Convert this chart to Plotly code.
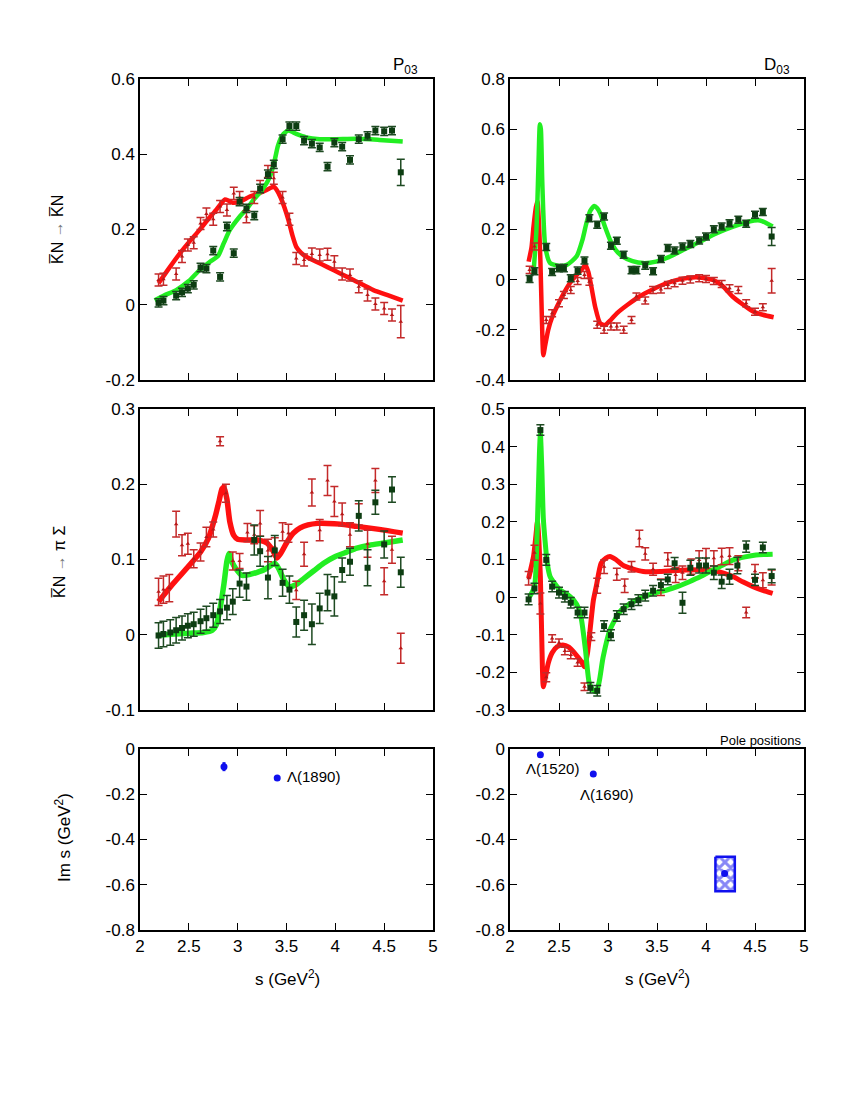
import plotly.graph_objects as go

# ---------------- data ----------------
# Top-left: P03, KbarN -> KbarN
tl_x = [2.19, 2.24, 2.37, 2.43, 2.49, 2.55, 2.62, 2.68, 2.75, 2.82, 2.89, 2.96, 3.02, 3.09, 3.17, 3.23, 3.31,
        3.37, 3.46, 3.53, 3.60, 3.68, 3.76, 3.84, 3.92, 3.99, 4.07, 4.15, 4.24, 4.33, 4.41, 4.50, 4.58, 4.67]
tl_im = [0.005, 0.011, 0.024, 0.033, 0.043, 0.053, 0.099, 0.096, 0.144, 0.074, 0.208, 0.137, 0.274, 0.256, 0.237,
         0.309, 0.347, 0.373, 0.440, 0.475, 0.475, 0.436, 0.428, 0.418, 0.367, 0.431, 0.420, 0.385, 0.440, 0.449,
         0.463, 0.461, 0.463, 0.352]
tl_im_err = [0.011] * 33 + [0.035]
tl_re = [0.066, 0.068, 0.082, 0.128, 0.159, 0.165, 0.216, 0.241, 0.227, 0.261, 0.252, 0.296, 0.285, 0.234, 0.285,
         0.314, 0.354, 0.336, 0.285, 0.227, 0.123, 0.119, 0.135, 0.132, 0.134, 0.114, 0.082, 0.079, 0.048, 0.026,
         0.002, -0.010, -0.027, -0.045]
tl_re_err = [0.016] * 33 + [0.043]
tl_re_fit_x = [2.19, 2.30, 2.41, 2.51, 2.61, 2.70, 2.78, 2.84, 2.87, 2.91, 2.95, 3.03, 3.12, 3.20, 3.28, 3.34, 3.37,
               3.40, 3.44, 3.48, 3.52, 3.56, 3.60, 3.65, 3.70, 3.80, 3.92, 4.05, 4.20, 4.39, 4.55, 4.69]
tl_re_fit = [0.057, 0.098, 0.137, 0.169, 0.199, 0.228, 0.252, 0.272, 0.280, 0.276, 0.271, 0.275, 0.287, 0.294,
             0.303, 0.311, 0.314, 0.305, 0.285, 0.258, 0.225, 0.185, 0.154, 0.138, 0.128, 0.115, 0.100, 0.083,
             0.064, 0.039, 0.024, 0.011]
tl_im_fit_x = [2.15, 2.25, 2.37, 2.50, 2.61, 2.72, 2.80, 2.86, 2.92, 3.02, 3.10, 3.16, 3.25, 3.33, 3.38, 3.41, 3.44,
               3.47, 3.52, 3.60, 3.70, 3.84, 4.00, 4.22, 4.45, 4.69]
tl_im_fit = [0.012, 0.025, 0.039, 0.063, 0.092, 0.115, 0.130, 0.165, 0.199, 0.234, 0.257, 0.278, 0.305, 0.340,
             0.385, 0.420, 0.442, 0.454, 0.463, 0.454, 0.445, 0.440, 0.440, 0.441, 0.438, 0.434]

# Top-right: D03, KbarN -> KbarN
tr_x = [2.20, 2.25, 2.37, 2.43, 2.50, 2.55, 2.62, 2.69, 2.76, 2.81, 2.89, 2.96, 3.03, 3.09, 3.16, 3.24, 3.29,
        3.38, 3.46, 3.54, 3.61, 3.68, 3.76, 3.84, 3.93, 4.00, 4.08, 4.16, 4.24, 4.33, 4.41, 4.50, 4.58, 4.67]
tr_im = [0.003, 0.034, 0.130, 0.031, 0.046, 0.046, 0.006, 0.036, 0.076, 0.245, 0.219, 0.252, 0.135, 0.155, 0.099,
         0.038, 0.038, 0.056, 0.034, 0.082, 0.126, 0.116, 0.132, 0.142, 0.156, 0.172, 0.201, 0.212, 0.225, 0.239,
         0.223, 0.259, 0.270, 0.172]
tr_im_err = [0.014] * 33 + [0.036]
tr_re = [0.039, 0.132, -0.161, -0.134, -0.094, -0.061, -0.041, -0.005, 0.019, -0.008, -0.180, -0.200, -0.187,
         -0.187, -0.200, -0.161, -0.067, -0.083, -0.041, -0.039, -0.021, -0.014, -0.004, 0.001, 0.006, 0.003,
         -0.005, -0.017, -0.034, -0.041, -0.094, -0.128, -0.110, -0.004]
tr_re_err = [0.014] * 33 + [0.049]
tr_re_fit_x = [2.19, 2.22, 2.24, 2.265, 2.28, 2.295, 2.31, 2.325, 2.34, 2.36, 2.39, 2.43, 2.48, 2.54, 2.61, 2.67,
               2.73, 2.77, 2.80, 2.83, 2.87, 2.92, 2.97, 3.03, 3.09, 3.20, 3.32, 3.45, 3.60, 3.75, 3.90, 4.07,
               4.17, 4.27, 4.38, 4.48, 4.58, 4.69]
tr_re_fit = [0.072, 0.130, 0.212, 0.290, 0.312, 0.230, 0.079, -0.150, -0.301, -0.260, -0.200, -0.150, -0.107,
             -0.060, -0.014, 0.015, 0.039, 0.059, 0.030, -0.028, -0.110, -0.174, -0.181, -0.160, -0.134, -0.100,
             -0.067, -0.040, -0.014, 0.003, 0.010, -0.001, -0.025, -0.067, -0.100, -0.127, -0.140, -0.150]
tr_im_fit_x = [2.24, 2.27, 2.29, 2.305, 2.315, 2.33, 2.36, 2.41, 2.50, 2.58, 2.68, 2.74, 2.78, 2.82, 2.86, 2.89,
               2.92, 2.97, 3.02, 3.08, 3.15, 3.25, 3.36, 3.49, 3.62, 3.77, 3.94, 4.11, 4.27, 4.44, 4.55, 4.68]
tr_im_fit = [0.026, 0.200, 0.450, 0.620, 0.600, 0.380, 0.132, 0.066, 0.055, 0.059, 0.093, 0.160, 0.226, 0.275,
             0.294, 0.285, 0.265, 0.210, 0.159, 0.118, 0.092, 0.074, 0.066, 0.072, 0.090, 0.119, 0.152, 0.185,
             0.210, 0.232, 0.236, 0.212]

# Middle-left: P03, KbarN -> pi Sigma
ml_im_x = [2.19, 2.24, 2.31, 2.37, 2.43, 2.49, 2.55, 2.62, 2.68, 2.75, 2.82, 2.89, 2.95, 3.02, 3.09, 3.17, 3.23,
           3.31, 3.38, 3.46, 3.53, 3.60, 3.68, 3.76, 3.84, 3.92, 3.99, 4.07, 4.15, 4.24, 4.33, 4.41, 4.50, 4.58, 4.67]
ml_im = [-0.001, 0.001, 0.003, 0.006, 0.009, 0.012, 0.014, 0.018, 0.022, 0.026, 0.031, 0.036, 0.044, 0.068, 0.064,
         0.126, 0.111, 0.076, 0.112, 0.069, 0.060, 0.017, 0.026, 0.014, 0.035, 0.056, 0.051, 0.086, 0.097, 0.158,
         0.089, 0.176, 0.120, 0.193, 0.083]
ml_im_err = [0.017, 0.017, 0.017, 0.017, 0.016, 0.016, 0.016, 0.016, 0.016, 0.016, 0.016, 0.016, 0.017, 0.018,
             0.018, 0.020, 0.020, 0.028, 0.020, 0.018, 0.018, 0.020, 0.020, 0.027, 0.020, 0.024, 0.026, 0.016,
             0.018, 0.020, 0.024, 0.016, 0.018, 0.017, 0.020]
ml_re_x = [2.19, 2.24, 2.30, 2.37, 2.43, 2.49, 2.55, 2.62, 2.68, 2.75, 2.82, 2.88, 2.95, 3.02, 3.10, 3.17, 3.23,
           3.31, 3.38, 3.46, 3.52, 3.60, 3.68, 3.76, 3.84, 3.92, 3.99, 4.07, 4.15, 4.24, 4.33, 4.41, 4.50, 4.58, 4.67]
ml_re = [0.057, 0.060, 0.062, 0.147, 0.119, 0.121, 0.101, 0.110, 0.130, 0.140, 0.257, 0.188, 0.098, 0.098, 0.136,
         0.133, 0.148, 0.112, 0.117, 0.137, 0.135, 0.059, 0.107, 0.189, 0.139, 0.205, 0.177, 0.160, 0.133, 0.160,
         0.121, 0.205, 0.071, 0.113, -0.018]
ml_re_err = [0.018, 0.018, 0.018, 0.017, 0.014, 0.014, 0.012, 0.012, 0.013, 0.010, 0.006, 0.012, 0.012, 0.010,
             0.012, 0.012, 0.017, 0.015, 0.012, 0.012, 0.012, 0.012, 0.016, 0.018, 0.014, 0.020, 0.020, 0.015,
             0.016, 0.014, 0.018, 0.016, 0.018, 0.018, 0.020]
ml_re_fit_x = [2.19, 2.34, 2.51, 2.62, 2.70, 2.77, 2.81, 2.84, 2.86, 2.89, 2.92, 2.96, 3.00, 3.09, 3.20, 3.30, 3.36,
               3.40, 3.44, 3.50, 3.57, 3.64, 3.72, 3.82, 3.92, 4.05, 4.22, 4.45, 4.69]
ml_re_fit = [0.044, 0.068, 0.093, 0.110, 0.128, 0.157, 0.178, 0.194, 0.196, 0.180, 0.150, 0.132, 0.127, 0.126,
             0.126, 0.122, 0.112, 0.102, 0.108, 0.122, 0.135, 0.142, 0.146, 0.148, 0.148, 0.147, 0.144, 0.140, 0.135]
ml_im_fit_x = [2.17, 2.35, 2.51, 2.65, 2.74, 2.78, 2.82, 2.86, 2.89, 2.91, 2.94, 2.98, 3.04, 3.12, 3.20, 3.28, 3.35,
               3.38, 3.42, 3.47, 3.53, 3.59, 3.68, 3.78, 3.88, 4.00, 4.12, 4.22, 4.35, 4.50, 4.69]
ml_im_fit = [-0.001, 0.001, 0.002, 0.003, 0.006, 0.013, 0.035, 0.068, 0.098, 0.108, 0.097, 0.088, 0.079, 0.080,
             0.083, 0.087, 0.093, 0.095, 0.088, 0.074, 0.064, 0.066, 0.075, 0.085, 0.095, 0.104, 0.110, 0.115,
             0.119, 0.122, 0.126]

# Middle-right: D03, KbarN -> pi Sigma
mr_im_x = [2.19, 2.25, 2.31, 2.37, 2.43, 2.50, 2.56, 2.62, 2.69, 2.76, 2.82, 2.89, 2.96, 3.03, 3.09, 3.16, 3.24,
           3.31, 3.38, 3.46, 3.54, 3.61, 3.68, 3.76, 3.84, 3.93, 4.00, 4.08, 4.16, 4.24, 4.32, 4.41, 4.50, 4.58, 4.67]
mr_im = [-0.006, 0.023, 0.444, 0.099, 0.028, 0.012, 0.001, -0.015, -0.041, -0.041, -0.241, -0.249, -0.077, -0.101,
         -0.050, -0.032, -0.019, -0.008, 0.004, 0.017, 0.032, 0.047, 0.090, -0.015, 0.078, 0.084, 0.084, 0.065,
         0.041, 0.054, 0.084, 0.134, 0.046, 0.132, 0.056]
mr_im_err = [0.014] * 22 + [0.015, 0.028, 0.020, 0.020, 0.020, 0.018, 0.018, 0.020, 0.022, 0.015, 0.015, 0.014,
                            0.018]
mr_re_x = [2.19, 2.25, 2.31, 2.37, 2.43, 2.50, 2.56, 2.62, 2.69, 2.76, 2.83, 2.89, 2.96, 3.09, 3.17, 3.24, 3.32,
           3.38, 3.46, 3.54, 3.61, 3.69, 3.76, 3.85, 3.93, 4.00, 4.08, 4.16, 4.24, 4.33, 4.41, 4.50, 4.58, 4.67]
mr_re = [0.050, 0.118, -0.017, -0.213, -0.110, -0.121, -0.143, -0.154, -0.174, -0.238, -0.105, 0.030, 0.081,
         0.061, 0.030, 0.081, 0.156, 0.115, 0.074, 0.026, 0.100, 0.059, 0.065, 0.081, 0.099, 0.103, 0.103, 0.108,
         0.109, 0.090, -0.041, 0.069, 0.045, 0.052]
mr_re_err = [0.018, 0.020, 0.028, 0.012, 0.010, 0.010, 0.010, 0.010, 0.010, 0.010, 0.010, 0.020, 0.018, 0.016,
             0.018, 0.014, 0.022, 0.016, 0.016, 0.022, 0.018, 0.020, 0.018, 0.020, 0.024, 0.026, 0.020, 0.022,
             0.022, 0.020, 0.014, 0.018, 0.020, 0.020]
mr_re_fit_x = [2.19, 2.24, 2.265, 2.28, 2.295, 2.31, 2.325, 2.34, 2.36, 2.39, 2.43, 2.48, 2.54, 2.60, 2.67, 2.73,
               2.76, 2.79, 2.82, 2.85, 2.88, 2.93, 2.98, 3.02, 3.08, 3.15, 3.25, 3.36, 3.53, 3.80, 4.04, 4.18, 4.28,
               4.38, 4.48, 4.58, 4.68]
mr_re_fit = [0.050, 0.108, 0.165, 0.201, 0.150, 0.054, -0.120, -0.238, -0.215, -0.176, -0.148, -0.132, -0.127,
             -0.133, -0.152, -0.172, -0.185, -0.150, -0.080, -0.010, 0.028, 0.090, 0.104, 0.108, 0.100, 0.085,
             0.075, 0.068, 0.068, 0.072, 0.072, 0.064, 0.054, 0.040, 0.028, 0.018, 0.010]
mr_im_fit_x = [2.20, 2.25, 2.28, 2.30, 2.31, 2.325, 2.34, 2.36, 2.38, 2.41, 2.46, 2.51, 2.58, 2.65, 2.70, 2.73,
               2.77, 2.81, 2.85, 2.88, 2.91, 2.95, 3.02, 3.12, 3.22, 3.32, 3.46, 3.60, 3.72, 3.83, 3.94, 4.04,
               4.16, 4.28, 4.40, 4.51, 4.68]
mr_im_fit = [0.001, 0.028, 0.200, 0.380, 0.435, 0.340, 0.210, 0.143, 0.090, 0.054, 0.035, 0.019, 0.008, -0.008,
             -0.030, -0.061, -0.140, -0.230, -0.248, -0.251, -0.225, -0.160, -0.087, -0.039, -0.018, -0.004,
             0.010, 0.019, 0.029, 0.041, 0.054, 0.068, 0.084, 0.099, 0.107, 0.112, 0.114]

# Pole positions
poleP_x = [2.86, 3.405]
poleP_y = [-0.078, -0.128]
poleP_err = [0.02, 0.0]
poleD_x = [2.31, 2.85, 4.19]
poleD_y = [-0.025, -0.11, -0.55]
poleD_box_x = [4.096, 4.294, 4.294, 4.096, 4.096]
poleD_box_y = [-0.476, -0.476, -0.629, -0.629, -0.476]

x_ticks = [2, 2.5, 3, 3.5, 4, 4.5, 5]
x_ticktext = ["2", "2.5", "3", "3.5", "4", "4.5", "5"]
yt_tl = [-0.2, 0, 0.2, 0.4, 0.6]
yt_tl_text = ["-0.2", "0", "0.2", "0.4", "0.6"]
yt_tr = [-0.4, -0.2, 0, 0.2, 0.4, 0.6, 0.8]
yt_tr_text = ["-0.4", "-0.2", "0", "0.2", "0.4", "0.6", "0.8"]
yt_ml = [-0.1, 0, 0.1, 0.2, 0.3]
yt_ml_text = ["-0.1", "0", "0.1", "0.2", "0.3"]
yt_mr = [-0.3, -0.2, -0.1, 0, 0.1, 0.2, 0.3, 0.4, 0.5]
yt_mr_text = ["-0.3", "-0.2", "-0.1", "0", "0.1", "0.2", "0.3", "0.4", "0.5"]
yt_b = [-0.8, -0.6, -0.4, -0.2, 0]
yt_b_text = ["-0.8", "-0.6", "-0.4", "-0.2", "0"]

# ---------------- styles ----------------
GREEN_LINE = "#22ee22"
RED_LINE = "#ff1010"
GREEN_DATA = "#0d3d12"
GREEN_ERR = "#1e4a22"
RED_DATA = "#b81818"
RED_ERR = "#c42a2a"
BLUE = "#1010ee"
FONT = "Liberation Sans, Arial, Helvetica, sans-serif"

W, H = 850, 1100
OFF = 8  # page body margin offset in pixels


def px(xp):
    return (xp - OFF) / W


def py(yp):
    return 1 - (yp - OFF) / H


fig = go.Figure()


def curve(x, y, color, xa, ya, width=4.5):
    fig.add_trace(go.Scatter(x=x, y=y, mode="lines", line=dict(color=color, width=width, shape="spline",
                                                               smoothing=0.6),
                             xaxis=xa, yaxis=ya, showlegend=False, hoverinfo="skip"))


def data(x, y, err, kind, xa, ya):
    if kind == "g":
        m = dict(symbol="square", size=6, color=GREEN_DATA)
        ec = GREEN_ERR
    else:
        m = dict(symbol="triangle-up", size=4, color=RED_DATA)
        ec = RED_ERR
    fig.add_trace(go.Scatter(x=x, y=y, mode="markers", marker=m,
                             error_y=dict(type="data", array=err, visible=True, color=ec, thickness=1.5, width=4),
                             xaxis=xa, yaxis=ya, showlegend=False))


# top-left
curve(tl_re_fit_x, tl_re_fit, RED_LINE, "x", "y")
curve(tl_im_fit_x, tl_im_fit, GREEN_LINE, "x", "y")
data(tl_x, tl_re, tl_re_err, "r", "x", "y")
data(tl_x, tl_im, tl_im_err, "g", "x", "y")
# top-right
curve(tr_re_fit_x, tr_re_fit, RED_LINE, "x2", "y2")
curve(tr_im_fit_x, tr_im_fit, GREEN_LINE, "x2", "y2")
data(tr_x, tr_re, tr_re_err, "r", "x2", "y2")
data(tr_x, tr_im, tr_im_err, "g", "x2", "y2")
# middle-left
curve(ml_re_fit_x, ml_re_fit, RED_LINE, "x3", "y3", 5.5)
curve(ml_im_fit_x, ml_im_fit, GREEN_LINE, "x3", "y3", 5.5)
data(ml_re_x, ml_re, ml_re_err, "r", "x3", "y3")
data(ml_im_x, ml_im, ml_im_err, "g", "x3", "y3")
# middle-right
curve(mr_re_fit_x, mr_re_fit, RED_LINE, "x4", "y4", 5)
curve(mr_im_fit_x, mr_im_fit, GREEN_LINE, "x4", "y4", 5)
data(mr_re_x, mr_re, mr_re_err, "r", "x4", "y4")
data(mr_im_x, mr_im, mr_im_err, "g", "x4", "y4")
# bottom-left poles
fig.add_trace(go.Scatter(x=poleP_x, y=poleP_y, mode="markers", marker=dict(color=BLUE, size=7),
                         error_y=dict(type="data", array=poleP_err, visible=True, color=BLUE, thickness=3, width=0),
                         xaxis="x5", yaxis="y5", showlegend=False))
# bottom-right poles
fig.add_trace(go.Scatter(x=poleD_box_x, y=poleD_box_y, mode="lines", fill="toself",
                         line=dict(color=BLUE, width=2.5), fillcolor="white",
                         fillpattern=dict(shape="x", fgcolor=BLUE, bgcolor="white", size=8, solidity=0.6),
                         xaxis="x6", yaxis="y6", showlegend=False))
fig.add_trace(go.Scatter(x=poleD_x, y=poleD_y, mode="markers", marker=dict(color=BLUE, size=7),
                         xaxis="x6", yaxis="y6", showlegend=False))

# ---------------- axes ----------------
XL = [px(140), px(433)]
XR = [px(510), px(804)]
YT = [py(380), py(79)]
YM = [py(710), py(409)]
YB = [py(930), py(749)]

ax_common = dict(showline=True, linecolor="black", linewidth=1.5, mirror="allticks", ticks="inside",
                 ticklen=7, tickwidth=1.2, tickcolor="black", showgrid=False, zeroline=False,
                 automargin=False, tickfont=dict(family=FONT, size=17, color="black"))


def xax(domain, anchor, labels):
    d = dict(ax_common)
    d.update(domain=domain, anchor=anchor, range=[2, 5], tickvals=x_ticks, ticktext=x_ticktext,
             showticklabels=labels)
    return d


def yax(domain, anchor, rng, tv, tt):
    d = dict(ax_common)
    d.update(domain=domain, anchor=anchor, range=rng, tickvals=tv, ticktext=tt)
    return d


fig.update_layout(
    width=W, height=H, margin=dict(l=0, r=0, t=0, b=0, autoexpand=False),
    paper_bgcolor="white", plot_bgcolor="white",
    xaxis=xax(XL, "y", False), yaxis=yax(YT, "x", [-0.2, 0.6], yt_tl, yt_tl_text),
    xaxis2=xax(XR, "y2", False), yaxis2=yax(YT, "x2", [-0.4, 0.8], yt_tr, yt_tr_text),
    xaxis3=xax(XL, "y3", False), yaxis3=yax(YM, "x3", [-0.1, 0.3], yt_ml, yt_ml_text),
    xaxis4=xax(XR, "y4", False), yaxis4=yax(YM, "x4", [-0.3, 0.5], yt_mr, yt_mr_text),
    xaxis5=xax(XL, "y5", True), yaxis5=yax(YB, "x5", [-0.8, 0], yt_b, yt_b_text),
    xaxis6=xax(XR, "y6", True), yaxis6=yax(YB, "x6", [-0.8, 0], yt_b, yt_b_text),
)


def ann(text, x, y, size=16, angle=0, xanchor="center", yanchor="middle", xref="paper", yref="paper"):
    fig.add_annotation(text=text, x=x, y=y, xref=xref, yref=yref, showarrow=False, textangle=angle,
                       xanchor=xanchor, yanchor=yanchor, font=dict(family=FONT, size=size, color="black"))


ARROW = "<span style='color:#777777'>\u2192</span>"
ann("P<sub>03</sub>", px(420), py(66), size=17, xanchor="right")
ann("D<sub>03</sub>", px(792), py(66), size=17, xanchor="right")
ann("K\u0305N " + ARROW + " K\u0305N", px(58), py(230), size=16, angle=-90)
ann("K\u0305N " + ARROW + " \u03c0 \u03a3", px(59), py(562), size=16, angle=-90)
ann("Im s (GeV<sup>2</sup>)", px(63), py(838), size=17, angle=-90)
ann("s (GeV<sup>2</sup>)", px(287), py(978), size=17)
ann("s (GeV<sup>2</sup>)", px(657), py(978), size=17)
ann("Pole positions", px(803), py(740), size=13, xanchor="right")
ann("\u039b(1890)", 3.48, -0.12, size=15, xanchor="left", xref="x5", yref="y5")
ann("\u039b(1520)", 2.43, -0.085, size=15, xref="x6", yref="y6")
ann("\u039b(1690)", 2.98, -0.2, size=15, xref="x6", yref="y6")

fig.write_html("out.html")
